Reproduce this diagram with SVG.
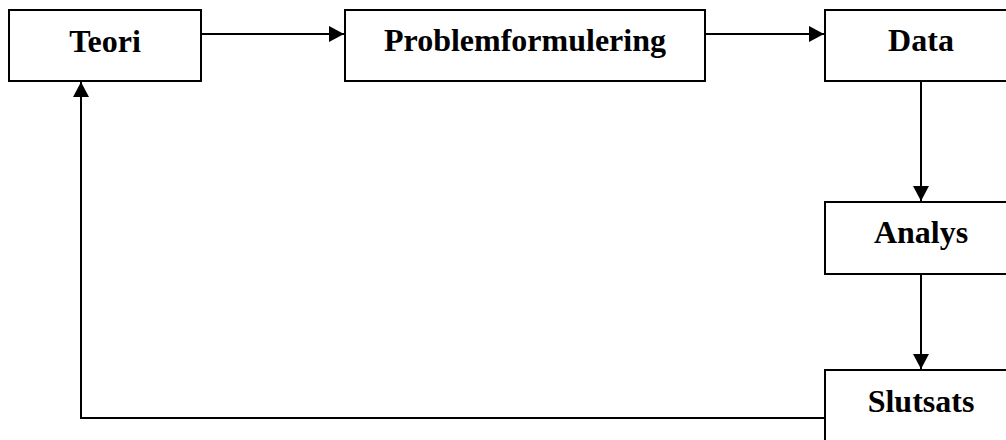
<svg xmlns="http://www.w3.org/2000/svg" width="1006" height="440" viewBox="0 0 1006 440">
<defs>
<style>
.box{fill:#fff;stroke:#000;stroke-width:2}
.lbl{font-family:"Liberation Serif","Times New Roman",serif;font-weight:bold;font-size:32px;fill:#000;text-anchor:middle}
.conn{fill:none;stroke:#000;stroke-width:2}
</style>
<marker id="ah" markerUnits="userSpaceOnUse" markerWidth="16" markerHeight="16" refX="15" refY="8" orient="auto">
<path d="M0,0 L15,8 L0,16 z" fill="#000"/>
</marker>
</defs>
<rect width="1006" height="440" fill="#fff"/>
<g id="connectors">
<line class="conn" x1="201" y1="34" x2="344" y2="34" marker-end="url(#ah)"/>
<line class="conn" x1="705" y1="34" x2="824" y2="34" marker-end="url(#ah)"/>
<line class="conn" x1="921" y1="81" x2="921" y2="201" marker-end="url(#ah)"/>
<line class="conn" x1="921" y1="274" x2="921" y2="369" marker-end="url(#ah)"/>
<polyline class="conn" points="825,418 81,418 81,82" marker-end="url(#ah)"/>
</g>
<g id="teori">
<rect class="box" x="9" y="10" width="192" height="71"/>
<text class="lbl" x="105" y="52">Teori</text>
</g>
<g id="problemformulering">
<rect class="box" x="345" y="10" width="360" height="71"/>
<text class="lbl" x="525" y="51">Problemformulering</text>
</g>
<g id="data">
<rect class="box" x="825" y="10" width="193" height="71"/>
<text class="lbl" x="921" y="51">Data</text>
</g>
<g id="analys">
<rect class="box" x="825" y="202" width="193" height="72"/>
<text class="lbl" x="921" y="243">Analys</text>
</g>
<g id="slutsats">
<rect class="box" x="825" y="370" width="193" height="72"/>
<text class="lbl" x="921" y="412">Slutsats</text>
</g>
</svg>
